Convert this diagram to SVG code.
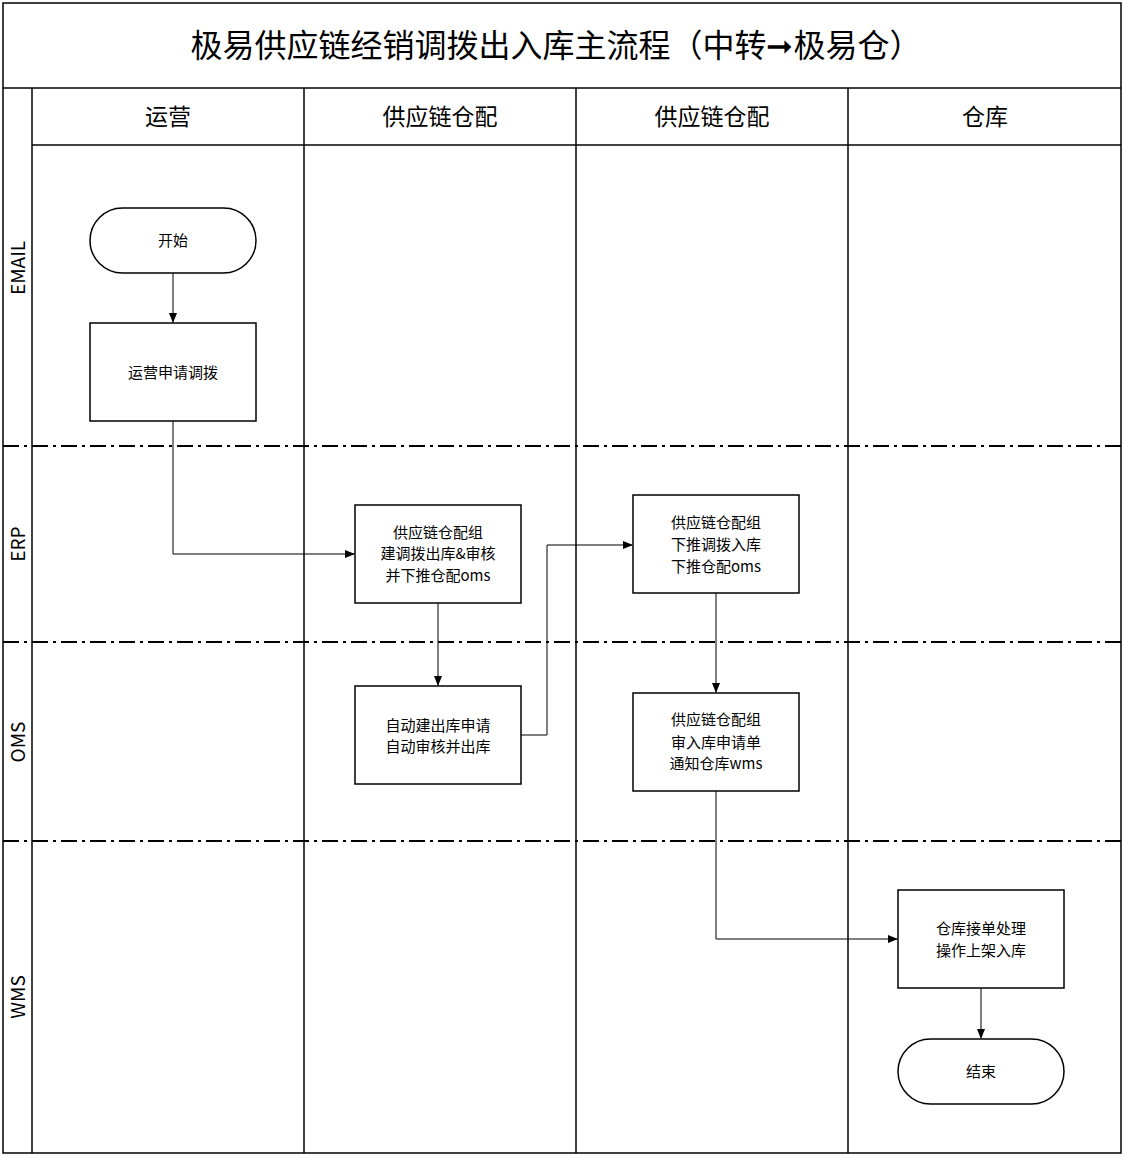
<svg xmlns="http://www.w3.org/2000/svg" width="1123" height="1156" viewBox="0 0 1123 1156">
<defs>
<marker id="ah" markerWidth="10" markerHeight="10" refX="9" refY="5" orient="auto" markerUnits="userSpaceOnUse"><path d="M0,1 L10,5 L0,9 Z" fill="#000"/></marker>
<style>
text{font-family:"Noto Sans CJK SC","Liberation Sans",sans-serif;fill:#000;text-anchor:middle}
.frame{fill:none;stroke:#000;stroke-width:1.5}
.dd{stroke:#000;stroke-width:2;stroke-dasharray:16 5 3 5;fill:none}
.box{fill:#fff;stroke:#000;stroke-width:1.5}
.n{font-size:15px}
.h{font-size:23px}
.lane{font-size:19px}
.c{fill:none;stroke:#000;stroke-width:1;marker-end:url(#ah)}
</style>
</defs>
<rect width="1123" height="1156" fill="#fff"/>
<g id="frame">
<rect class="frame" x="3" y="3" width="1118" height="1150"/>
<line class="frame" x1="3" y1="88" x2="1121" y2="88"/>
<line class="frame" x1="32" y1="145" x2="1121" y2="145"/>
<line class="frame" x1="32" y1="88" x2="32" y2="1153"/>
<line class="frame" x1="304" y1="88" x2="304" y2="1153"/>
<line class="frame" x1="576" y1="88" x2="576" y2="1153"/>
<line class="frame" x1="848" y1="88" x2="848" y2="1153"/>
<line class="dd" x1="3" y1="446" x2="1121" y2="446"/>
<line class="dd" x1="3" y1="642" x2="1121" y2="642"/>
<line class="dd" x1="3" y1="841" x2="1121" y2="841"/>
<text x="556" y="57" font-size="32">极易供应链经销调拨出入库主流程（中转➞极易仓）</text>
<text class="h" x="168" y="125">运营</text>
<text class="h" x="440" y="125">供应链仓配</text>
<text class="h" x="712" y="125">供应链仓配</text>
<text class="h" x="985" y="125">仓库</text>
<text class="lane" transform="translate(25,268) rotate(-90)">EMAIL</text>
<text class="lane" transform="translate(25,544) rotate(-90)">ERP</text>
<text class="lane" transform="translate(25,742) rotate(-90)">OMS</text>
<text class="lane" transform="translate(25,997) rotate(-90)">WMS</text>
</g>
<g id="connectors">
<path class="c" d="M173,273 V322"/>
<path class="c" d="M173,421 V554 H354"/>
<path class="c" d="M438,603 V685"/>
<path class="c" d="M521,735 H547 V545 H632"/>
<path class="c" d="M716,593 V692"/>
<path class="c" d="M716,791 V939 H897"/>
<path class="c" d="M981,988 V1038"/>
</g>
<g id="start"><rect class="box" x="90" y="208" width="166" height="65" rx="32.5"/><text class="n" x="173" y="246">开始</text></g>
<g id="apply"><rect class="box" x="90" y="323" width="166" height="98"/><text class="n" x="173" y="378">运营申请调拨</text></g>
<g id="erp1"><rect class="box" x="355" y="505" width="166" height="98"/><text class="n" x="438" y="538">供应链仓配组</text><text class="n" x="438" y="559">建调拨出库&amp;审核</text><text class="n" x="438" y="581">并下推仓配oms</text></g>
<g id="oms1"><rect class="box" x="355" y="686" width="166" height="98"/><text class="n" x="438" y="731">自动建出库申请</text><text class="n" x="438" y="752">自动审核并出库</text></g>
<g id="erp2"><rect class="box" x="633" y="495" width="166" height="98"/><text class="n" x="716" y="528">供应链仓配组</text><text class="n" x="716" y="550">下推调拨入库</text><text class="n" x="716" y="572">下推仓配oms</text></g>
<g id="oms2"><rect class="box" x="633" y="693" width="166" height="98"/><text class="n" x="716" y="725">供应链仓配组</text><text class="n" x="716" y="748">审入库申请单</text><text class="n" x="716" y="769">通知仓库wms</text></g>
<g id="wms1"><rect class="box" x="898" y="890" width="166" height="98"/><text class="n" x="981" y="934">仓库接单处理</text><text class="n" x="981" y="956">操作上架入库</text></g>
<g id="end"><rect class="box" x="898" y="1039" width="166" height="65" rx="32.5"/><text class="n" x="981" y="1077">结束</text></g>
</svg>
